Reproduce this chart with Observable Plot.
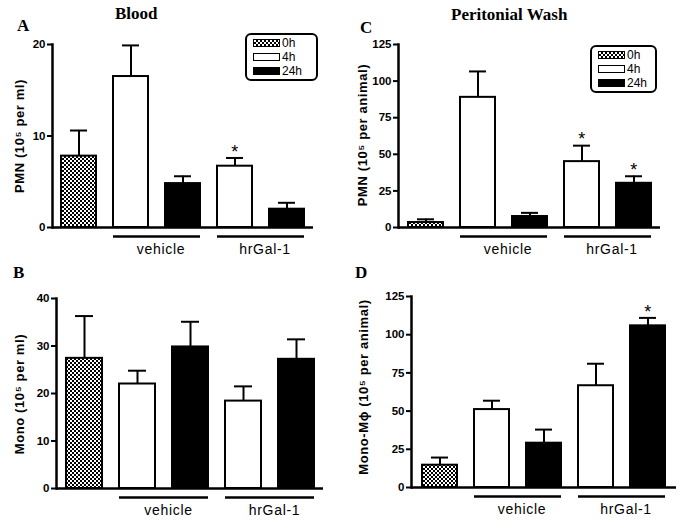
<!DOCTYPE html>
<html><head><meta charset="utf-8">
<script src="https://cdn.jsdelivr.net/npm/d3@7"></script>
<script src="https://cdn.jsdelivr.net/npm/@observablehq/plot@0.6"></script>
<style>
body{margin:0;background:#fff;}
#root{position:relative;width:686px;height:521px;overflow:hidden;font-family:"Liberation Sans",Arial,sans-serif;background:#fff;}
.panel{position:absolute;}
.serif{position:absolute;font-family:"Liberation Serif","Times New Roman",serif;font-weight:bold;line-height:1;white-space:nowrap;}
.ylab{position:absolute;font-family:"Liberation Sans",Arial,sans-serif;font-weight:bold;font-size:13px;letter-spacing:0.6px;white-space:nowrap;transform:translate(-50%,-50%) rotate(-90deg);line-height:1;}
.legend{position:absolute;border:2.5px solid #000;border-radius:6px;box-sizing:border-box;font-size:12px;}
.legend .sw{position:absolute;left:6px;width:27px;height:8px;box-sizing:border-box;border:1.5px solid #000;}
.legend .lt{position:absolute;left:35px;line-height:12px;height:12px;}
.chk{background-color:#fff;background-image:linear-gradient(45deg,#000 25%,transparent 25%,transparent 75%,#000 75%),linear-gradient(45deg,#000 25%,transparent 25%,transparent 75%,#000 75%);background-size:4px 4px;background-position:0 0,2px 2px;}
svg g[aria-label="text"] text{letter-spacing:0.7px;}
svg g[aria-label="y-axis tick label"], svg g[aria-label="y-axis tick label"] text{font-weight:bold;}
</style>
</head><body>
<div id="root"></div>
<script>
// categories (bar order) and their time point / group membership
const categories = ["0h", "vehicle 4h", "vehicle 24h", "hrGal-1 4h", "hrGal-1 24h"];
const times = ["0h", "4h", "24h", "4h", "24h"];
const groups = ["vehicle", "hrGal-1"];
const groupFrom = ["vehicle 4h", "hrGal-1 4h"];
const groupTo = ["vehicle 24h", "hrGal-1 24h"];
const legendLabels = ["0h", "4h", "24h"];

// Panel A: Blood PMN (10^5 per ml)
const bloodPMN = [7.8, 16.5, 4.8, 6.7, 2.0];
const bloodPMNErr = [2.8, 3.4, 0.8, 0.9, 0.7];
const bloodPMNStars = ["", "", "", "*", ""];
const ticksA = [0, 10, 20];

// Panel B: Blood Mono (10^5 per ml)
const bloodMono = [27.4, 22.0, 29.8, 18.4, 27.2];
const bloodMonoErr = [8.9, 2.8, 5.3, 3.1, 4.2];
const bloodMonoStars = ["", "", "", "", ""];
const ticksB = [0, 10, 20, 30, 40];

// Panel C: Peritoneal wash PMN (10^5 per animal)
const washPMN = [3.4, 88.9, 7.5, 45.0, 30.2];
const washPMNErr = [2.2, 17.7, 2.5, 10.9, 4.8];
const washPMNStars = ["", "", "", "*", "*"];
const ticksC = [0, 25, 50, 75, 100, 125];

// Panel D: Peritoneal wash Mono-Mphi (10^5 per animal)
const washMono = [14.6, 51.0, 29.0, 66.6, 105.8];
const washMonoErr = [5.0, 5.8, 8.9, 14.4, 5.2];
const washMonoStars = ["", "", "", "", "*"];
const ticksD = [0, 25, 50, 75, 100, 125];

const panels = [
  {id:"A", left:0, top:0, w:343, h:260, mt:44, mr:30, mb:33, ml:52, values:bloodPMN, errs:bloodPMNErr, stars:bloodPMNStars, domain:[0,20], ticks:ticksA,
   letter:{x:17,y:17}, title:{text:"Blood", x:115, y:5, size:17}, ylab:{text:"PMN (10\u2075 per ml)", x:19, y:136},
   legend:{x:245, y:33, w:73, h:48}},
  {id:"C", left:343, top:0, w:343, h:260, mt:44, mr:26, mb:33, ml:55, values:washPMN, errs:washPMNErr, stars:washPMNStars, domain:[0,125], ticks:ticksC,
   letter:{x:360, y:19}, title:{text:"Peritonial Wash", x:451, y:6, size:17}, ylab:{text:"PMN (10\u2075 per animal)", x:362, y:135},
   legend:{x:590, y:45, w:67, h:48}},
  {id:"B", left:0, top:260, w:343, h:261, mt:38, mr:20, mb:33, ml:56, values:bloodMono, errs:bloodMonoErr, stars:bloodMonoStars, domain:[0,40], ticks:ticksB,
   letter:{x:13, y:264}, ylab:{text:"Mono (10\u2075 per ml)", x:19, y:394}},
  {id:"D", left:343, top:260, w:343, h:261, mt:36, mr:10, mb:34, ml:68, values:washMono, errs:washMonoErr, stars:washMonoStars, domain:[0,125], ticks:ticksD,
   letter:{x:355, y:264}, ylab:{text:"Mono-M\u03d5 (10\u2075 per animal)", x:363, y:387}}
];

const root = document.getElementById("root");

function makePanel(p) {
  const rows = categories.map((c, i) => ({cat:c, time:times[i], value:p.values[i], upper:p.values[i] + p.errs[i], star:p.stars[i]}));
  const grp = groups.map((g, i) => ({group:g, from:groupFrom[i], to:groupTo[i], base:0}));
  const pat = "chk" + p.id;
  const svg = Plot.plot({
    width:p.w, height:p.h,
    marginTop:p.mt, marginRight:p.mr, marginBottom:p.mb, marginLeft:p.ml,
    style:{fontFamily:"'Liberation Sans', Arial, sans-serif", background:"transparent", overflow:"visible", color:"#000"},
    x:{domain:categories, paddingInner:0.33, paddingOuter:0.17, axis:null},
    y:{domain:p.domain},
    marks:[
      Plot.barY(rows.filter(d => d.time === "0h"), {x:"cat", y:"value", fill:`url(#${pat})`, stroke:"black", strokeWidth:2}),
      Plot.barY(rows.filter(d => d.time === "4h"), {x:"cat", y:"value", fill:"white", stroke:"black", strokeWidth:2}),
      Plot.barY(rows.filter(d => d.time === "24h"), {x:"cat", y:"value", fill:"black", stroke:"black", strokeWidth:2}),
      Plot.ruleX(rows, {x:"cat", y1:"value", y2:"upper", stroke:"black", strokeWidth:2}),
      Plot.tickY(rows, {x:"cat", y:"upper", stroke:"black", strokeWidth:2, insetLeft:9, insetRight:9}),
      Plot.text(rows.filter(d => d.star), {x:"cat", y:"upper", text:"star", dy:-6, fontSize:18, fill:"black"}),
      Plot.ruleY(grp, {x1:"from", x2:"to", y:"base", dy:9, stroke:"black", strokeWidth:2.5}),
      Plot.text(grp, {x:"to", y:"base", text:"group", dy:22, dx:-22, fontSize:14, fill:"black"}),
      Plot.ruleY([0], {stroke:"black", strokeWidth:2.5}),
      Plot.axisY({ticks:p.ticks, tickSize:5, tickPadding:2, strokeWidth:2, fontSize:11.5, fontWeight:"bold", label:null}),
      Plot.frame({anchor:"left", stroke:"black", strokeWidth:2.5})
    ]
  });
  d3.select(svg).insert("defs", ":first-child").html(
    `<pattern id="${pat}" patternUnits="userSpaceOnUse" width="4" height="4"><rect width="4" height="4" fill="white"/><rect width="2" height="2" fill="black"/><rect x="2" y="2" width="2" height="2" fill="black"/></pattern>`
  );
  const wrap = document.createElement("div");
  wrap.className = "panel";
  wrap.style.left = p.left + "px";
  wrap.style.top = p.top + "px";
  wrap.appendChild(svg);
  root.appendChild(wrap);

  const letter = document.createElement("div");
  letter.className = "serif";
  letter.style.cssText = `left:${p.letter.x}px;top:${p.letter.y}px;font-size:17px;`;
  letter.textContent = p.id;
  root.appendChild(letter);

  if (p.title) {
    const t = document.createElement("div");
    t.className = "serif";
    t.style.cssText = `left:${p.title.x}px;top:${p.title.y}px;font-size:${p.title.size}px;`;
    t.textContent = p.title.text;
    root.appendChild(t);
  }

  const yl = document.createElement("div");
  yl.className = "ylab";
  yl.style.left = p.ylab.x + "px";
  yl.style.top = p.ylab.y + "px";
  yl.textContent = p.ylab.text;
  root.appendChild(yl);

  if (p.legend) {
    const lg = document.createElement("div");
    lg.className = "legend";
    lg.style.cssText = `left:${p.legend.x}px;top:${p.legend.y}px;width:${p.legend.w}px;height:${p.legend.h}px;`;
    const fills = ["chk", "", ""];
    legendLabels.forEach((lab, i) => {
      const sw = document.createElement("div");
      sw.className = "sw " + fills[i];
      sw.style.top = (4 + i * 14) + "px";
      if (i === 1) sw.style.background = "#fff";
      if (i === 2) sw.style.background = "#000";
      lg.appendChild(sw);
      const tx = document.createElement("div");
      tx.className = "lt";
      tx.style.top = (2 + i * 14) + "px";
      tx.textContent = lab;
      lg.appendChild(tx);
    });
    root.appendChild(lg);
  }
}

panels.forEach(makePanel);
</script>
</body></html>
